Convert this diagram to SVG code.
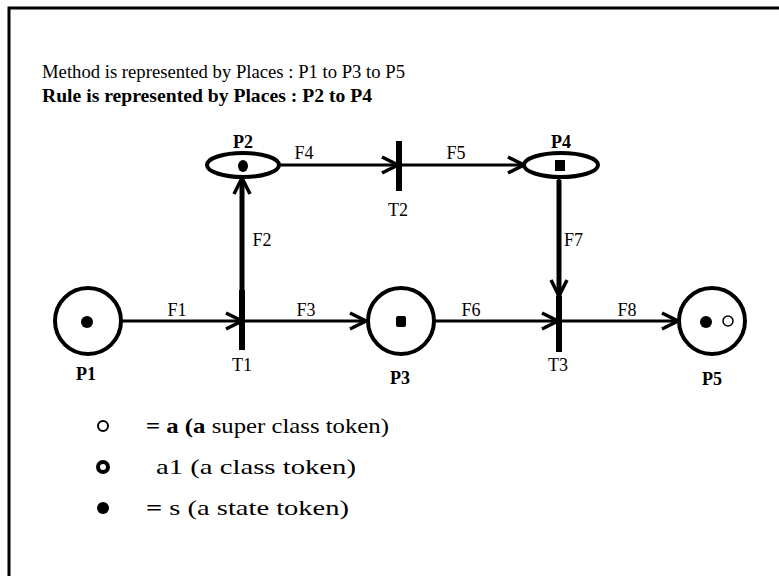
<svg xmlns="http://www.w3.org/2000/svg" width="779" height="576" viewBox="0 0 779 576">
<defs>
<marker id="arr" viewBox="0 0 20 20" refX="18" refY="10" markerWidth="20" markerHeight="20" markerUnits="userSpaceOnUse" orient="auto">
<path d="M2,2 L18,10 L2,18" fill="none" stroke="#000" stroke-width="3.5"/>
</marker>
<style>
text{font-family:"Liberation Serif","Times New Roman",serif;fill:#000}
.t{font-size:19px}
.b{font-weight:bold}
.l{font-size:18px}
.g{font-size:21px}
.place{fill:#fff;stroke:#000;stroke-width:4}
.edge{stroke:#000;stroke-width:3;fill:none}
.bar{stroke:#000;stroke-width:6}
</style>
</defs>
<rect width="779" height="576" fill="#fff"/>
<path d="M9,576 V8 H779" fill="none" stroke="#000" stroke-width="3"/>
<text x="42" y="78" class="t" textLength="363" lengthAdjust="spacingAndGlyphs">Method is represented by Places : P1 to P3 to P5</text>
<text x="42" y="102" class="t b" textLength="330" lengthAdjust="spacingAndGlyphs">Rule is represented by Places : P2 to P4</text>
<g id="connectors">
<line class="edge" x1="121" y1="321" x2="242" y2="321" marker-end="url(#arr)"/>
<line class="edge" x1="242" y1="321" x2="366" y2="321" marker-end="url(#arr)"/>
<line class="edge" x1="242" y1="300" x2="242" y2="178" marker-end="url(#arr)"/>
<line class="edge" x1="279" y1="165" x2="398" y2="165" marker-end="url(#arr)"/>
<line class="edge" x1="398" y1="165" x2="524" y2="165" marker-end="url(#arr)"/>
<line class="edge" x1="434" y1="321" x2="558" y2="321" marker-end="url(#arr)"/>
<line class="edge" x1="559" y1="177" x2="559" y2="296" marker-end="url(#arr)"/>
<line class="edge" x1="558" y1="321" x2="678" y2="321" marker-end="url(#arr)"/>
<text x="304" y="159" class="l" text-anchor="middle">F4</text>
<text x="456" y="159" class="l" text-anchor="middle">F5</text>
<text x="262" y="246" class="l" text-anchor="middle">F2</text>
<text x="564" y="246" class="l">F7</text>
<text x="177" y="316" class="l" text-anchor="middle">F1</text>
<text x="306" y="316" class="l" text-anchor="middle">F3</text>
<text x="471" y="316" class="l" text-anchor="middle">F6</text>
<text x="627" y="316" class="l" text-anchor="middle">F8</text>
</g>
<g id="P1">
<circle class="place" cx="88" cy="321" r="33"/>
<circle cx="87" cy="322" r="6"/>
<text x="86" y="380" class="l b" text-anchor="middle">P1</text>
</g>
<g id="T1">
<line class="bar" x1="242" y1="290" x2="242" y2="350"/>
<line class="edge" x1="242" y1="300" x2="242" y2="180" style="stroke-width:5"/>
<text x="242" y="371" class="l" text-anchor="middle">T1</text>
</g>
<g id="P2">
<ellipse class="place" cx="243" cy="165" rx="36" ry="12"/>
<ellipse cx="243" cy="166" rx="5" ry="6"/>
<text x="243" y="148" class="l b" text-anchor="middle">P2</text>
</g>
<g id="T2">
<line class="bar" x1="399" y1="141" x2="399" y2="191"/>
<text x="398" y="216" class="l" text-anchor="middle">T2</text>
</g>
<g id="P4">
<ellipse class="place" cx="561" cy="165" rx="37" ry="12"/>
<rect x="555" y="160" width="10" height="11"/>
<text x="561" y="148" class="l b" text-anchor="middle">P4</text>
</g>
<g id="P3">
<circle class="place" cx="401" cy="321" r="33"/>
<rect x="396" y="316" width="10" height="11" rx="2"/>
<text x="400" y="384" class="l b" text-anchor="middle">P3</text>
</g>
<g id="T3">
<line class="bar" x1="559" y1="296" x2="559" y2="352"/>
<line class="edge" x1="559" y1="180" x2="559" y2="296" style="stroke-width:5"/>
<text x="558" y="371" class="l" text-anchor="middle">T3</text>
</g>
<g id="P5">
<circle class="place" cx="712" cy="321" r="33"/>
<circle cx="706" cy="322" r="6"/>
<circle cx="728" cy="321" r="5" fill="#fff" stroke="#000" stroke-width="1.5"/>
<text x="712" y="385" class="l b" text-anchor="middle">P5</text>
</g>
<g id="legend">
<circle cx="103" cy="426" r="5" fill="#fff" stroke="#000" stroke-width="2"/>
<text x="146" y="433" class="g" textLength="243" lengthAdjust="spacingAndGlyphs"><tspan class="b">= a (a</tspan> super class token)</text>
<circle cx="103" cy="467" r="5" fill="#fff" stroke="#000" stroke-width="4"/>
<text x="156" y="474" class="g" textLength="200" lengthAdjust="spacingAndGlyphs">a1 (a class token)</text>
<circle cx="103" cy="508" r="6"/>
<text x="146" y="515" class="g" textLength="203" lengthAdjust="spacingAndGlyphs"><tspan class="b">=</tspan> s (a state token)</text>
</g>
</svg>
